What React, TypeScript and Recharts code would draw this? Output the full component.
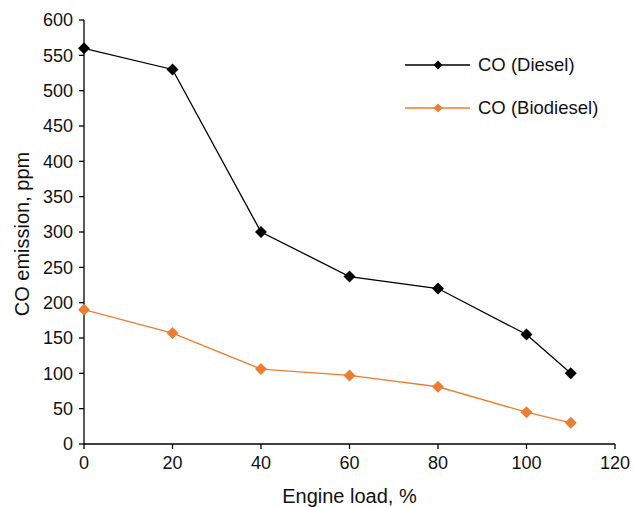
import React from "react";
import { LineChart, Line, XAxis, YAxis, Customized } from "recharts";

const loads = [0, 20, 40, 60, 80, 100, 110];
const dieselCO = [560, 530, 300, 237, 220, 155, 100];
const biodieselCO = [190, 157, 106, 97, 81, 45, 30];
const xTicks = [0, 20, 40, 60, 80, 100, 120];
const yTicks = [0, 50, 100, 150, 200, 250, 300, 350, 400, 450, 500, 550, 600];
const seriesNames = ["CO (Diesel)", "CO (Biodiesel)"];
const seriesColors = ["#000000", "#ED7D31"];

const data = loads.map((x, i) => ({ x, diesel: dieselCO[i], bio: biodieselCO[i] }));

const FONT = "Liberation Sans, Arial, sans-serif";

const Diamond = (props: any) => {
  const { cx, cy, fill, r = 6 } = props;
  if (cx == null || cy == null) return null;
  return (
    <path
      d={`M${cx},${cy - r} L${cx + r},${cy} L${cx},${cy + r} L${cx - r},${cy} Z`}
      fill={fill}
      stroke="none"
    />
  );
};

const LegendBox = () => {
  const rows = [65, 108];
  return (
    <g>
      {seriesNames.map((n, i) => (
        <g key={n}>
          <line x1={405} x2={470} y1={rows[i]} y2={rows[i]} stroke={seriesColors[i]} strokeWidth={1.3} />
          <Diamond cx={438} cy={rows[i]} r={4.5} fill={seriesColors[i]} />
          <text x={478} y={rows[i]} dy="0.35em" fontFamily={FONT} fontSize={18.5} fill="#111">
            {n}
          </text>
        </g>
      ))}
    </g>
  );
};

export default function App() {
  return (
    <div style={{ position: "absolute", left: 0, top: 0, background: "#fff" }}>
      <LineChart width={634} height={507} data={data} margin={{ top: 20, right: 19, bottom: 23, left: 34 }}>
        <XAxis
          dataKey="x"
          type="number"
          domain={[0, 120]}
          ticks={xTicks}
          tickSize={5}
          tickMargin={7}
          axisLine={{ stroke: "#000", strokeWidth: 1.3 }}
          tickLine={{ stroke: "#000", strokeWidth: 1.3 }}
          tick={{ fill: "#111", fontSize: 18, fontFamily: FONT }}
          height={40}
          label={{ value: "Engine load, %", position: "insideBottom", offset: -19, fill: "#111", fontSize: 20, fontFamily: FONT }}
        />
        <YAxis
          type="number"
          domain={[0, 600]}
          ticks={yTicks}
          interval={0}
          tickSize={5}
          tickMargin={6}
          axisLine={{ stroke: "#000", strokeWidth: 1.3 }}
          tickLine={{ stroke: "#000", strokeWidth: 1.3 }}
          tick={{ fill: "#111", fontSize: 18, fontFamily: FONT }}
          width={50}
          label={{ value: "CO emission, ppm", angle: -90, position: "center", dx: -37, dy: 2, fill: "#111", fontSize: 20, fontFamily: FONT }}
        />
        <Line
          dataKey="diesel"
          stroke={seriesColors[0]}
          strokeWidth={1.3}
          dot={<Diamond fill={seriesColors[0]} r={6} />}
          activeDot={false}
          isAnimationActive={false}
        />
        <Line
          dataKey="bio"
          stroke={seriesColors[1]}
          strokeWidth={1.3}
          dot={<Diamond fill={seriesColors[1]} r={6} />}
          activeDot={false}
          isAnimationActive={false}
        />
        <Customized component={LegendBox} />
      </LineChart>
    </div>
  );
}
